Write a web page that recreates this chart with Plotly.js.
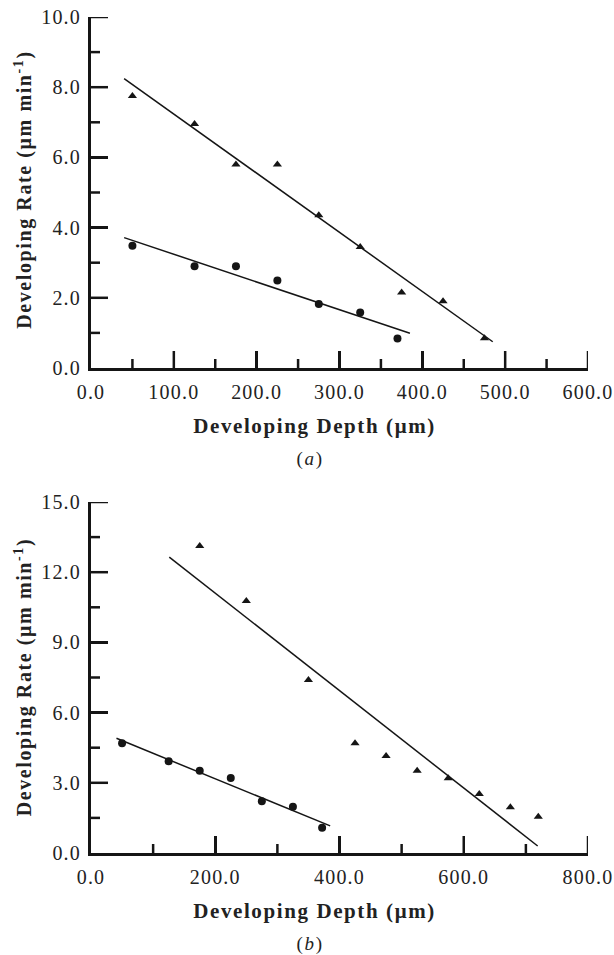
<!DOCTYPE html>
<html>
<head>
<meta charset="utf-8">
<script src="https://cdn.plot.ly/plotly-3.0.1.min.js"></script>
<style>
  html, body { margin: 0; padding: 0; background: #fff; }
  #chart { width: 614px; height: 955px; }
  .main-svg .xtick text, .main-svg .ytick text,
  .main-svg .x2tick text, .main-svg .y2tick text { letter-spacing: 1.2px; }
  .main-svg .annotation-text { letter-spacing: 1.6px; }
</style>
</head>
<body>
<div id="chart"></div>
<script>
// ---------- Data ----------
// Panel (a)
const aTriX = [50, 125, 175, 225, 275, 325, 375, 425, 475];
const aTriY = [7.75, 6.95, 5.8, 5.8, 4.35, 3.45, 2.15, 1.9, 0.85];
const aCirX = [50, 125, 175, 225, 275, 325, 370];
const aCirY = [3.48, 2.9, 2.9, 2.49, 1.82, 1.58, 0.84];
const aTriFitRange = [40, 485];
const aCirFitRange = [40, 385];

// Panel (b)
const bTriX = [175, 250, 350, 425, 475, 525, 575, 625, 675, 720];
const bTriY = [13.12, 10.77, 7.39, 4.69, 4.15, 3.52, 3.19, 2.52, 1.95, 1.55];
const bCirX = [50, 125, 175, 225, 275, 325, 372];
const bCirY = [4.69, 3.92, 3.52, 3.2, 2.21, 1.98, 1.08];
const bTriFitRange = [126, 719];
const bCirFitRange = [41, 385];

// Axis ranges and tick steps [major, minor]
const aXRange = [0, 600], aXStep = [100, 50];
const aYRange = [0, 10],  aYStep = [2, 1];
const bXRange = [0, 800], bXStep = [200, 100];
const bYRange = [0, 15],  bYStep = [3, 1.5];

// Text
const xTitle = "Developing Depth (\u03bcm)";
const yTitle = "Developing Rate (\u03bcm min<sup>-1</sup>)";
const panelLabels = ["(<i>a</i>)", "(<i>b</i>)"];

// ---------- Helpers ----------
function fitLine(xs, ys, range) {
  const n = xs.length;
  const mx = xs.reduce((s, v) => s + v, 0) / n;
  const my = ys.reduce((s, v) => s + v, 0) / n;
  let sxy = 0, sxx = 0;
  for (let i = 0; i < n; i++) { sxy += (xs[i] - mx) * (ys[i] - my); sxx += (xs[i] - mx) ** 2; }
  const m = sxy / sxx, b = my - m * mx;
  return { x: range.slice(), y: range.map(v => m * v + b) };
}

const ink = '#151515';
const serif = 'Liberation Serif, Times New Roman, serif';

function markers(xs, ys, sym, size, xa, ya) {
  return { x: xs, y: ys, xaxis: xa, yaxis: ya, type: 'scatter', mode: 'markers',
    marker: { symbol: sym, size: size, color: ink, line: { width: 0 } },
    showlegend: false, hoverinfo: 'skip' };
}
function line(f, xa, ya) {
  return { x: f.x, y: f.y, xaxis: xa, yaxis: ya, type: 'scatter', mode: 'lines',
    line: { color: ink, width: 1.5 }, showlegend: false, hoverinfo: 'skip' };
}

const data = [
  line(fitLine(aTriX, aTriY, aTriFitRange), 'x', 'y'),
  line(fitLine(aCirX, aCirY, aCirFitRange), 'x', 'y'),
  markers(aTriX, aTriY, 'triangle-up', 8, 'x', 'y'),
  markers(aCirX, aCirY, 'circle', 8, 'x', 'y'),
  line(fitLine(bTriX, bTriY, bTriFitRange), 'x2', 'y2'),
  line(fitLine(bCirX, bCirY, bCirFitRange), 'x2', 'y2'),
  markers(bTriX, bTriY, 'triangle-up', 8, 'x2', 'y2'),
  markers(bCirX, bCirY, 'circle', 8, 'x2', 'y2')
];

const tickFont = { family: serif, size: 20, color: '#222' };
function axis(extra) {
  return Object.assign({
    showgrid: false, zeroline: false, showline: true, linewidth: 3, linecolor: ink,
    ticks: 'inside', ticklen: 17, tickwidth: 2.5, tickcolor: ink, layer: 'above traces',
    tickfont: tickFont, tickformat: '.1f', tick0: 0, fixedrange: true
  }, extra);
}

// tick marks drawn as shapes anchored on the axes' own scales (pixel lengths)
function tickShapes(axName, otherAx, range, step, isX) {
  const out = [];
  const n = Math.round((range[1] - range[0]) / step[1]);
  for (let i = 1; i <= n; i++) {
    const v = range[0] + i * step[1];
    const major = Math.abs(v / step[0] - Math.round(v / step[0])) < 1e-9;
    const len = major ? 17 : 9;
    const s = { type: 'line', layer: 'above', line: { color: ink, width: 2.5 } };
    if (isX) {
      Object.assign(s, { xref: axName, yref: otherAx, x0: v, x1: v,
        ysizemode: 'pixel', yanchor: 0, y0: 0, y1: len });
    } else {
      Object.assign(s, { yref: axName, xref: otherAx, y0: v, y1: v,
        xsizemode: 'pixel', xanchor: 0, x0: 0, x1: len });
    }
    out.push(s);
  }
  return out;
}

const L = 91, R = 588, T = 17, B = 853, W = 614, H = 955;
const px = v => (v - L) / (R - L);
const py = v => (B - v) / (B - T);

const titleFont = { family: serif, size: 21, color: '#222', weight: 'bold' };
const yTitleFont = { family: serif, size: 20, color: '#222', weight: 'bold' };
const labFont = { family: serif, size: 19, color: '#222' };

function ann(text, x, y, font, angle) {
  return { text: text, xref: 'paper', yref: 'paper', x: px(x), y: py(y),
    xanchor: 'center', yanchor: 'middle', showarrow: false, font: font, textangle: angle || 0 };
}

const layout = {
  width: W, height: H,
  margin: { l: L, r: W - R, t: T, b: H - B },
  showlegend: false,
  xaxis: axis({ domain: [0, 1], anchor: 'y', range: aXRange, dtick: aXStep[0], ticklabelstandoff: 4 }),
  yaxis: axis({ domain: [py(368), 1], anchor: 'x', range: aYRange, dtick: aYStep[0], ticklabelstandoff: 3 }),
  xaxis2: axis({ domain: [0, 1], anchor: 'y2', range: bXRange, dtick: bXStep[0], ticklabelstandoff: 4 }),
  yaxis2: axis({ domain: [0, py(502)], anchor: 'x2', range: bYRange, dtick: bYStep[0], ticklabelstandoff: 3 }),
  shapes: [].concat(
    tickShapes('x', 'y', aXRange, aXStep, true),
    tickShapes('y', 'x', aYRange, aYStep, false),
    tickShapes('x2', 'y2', bXRange, bXStep, true),
    tickShapes('y2', 'x2', bYRange, bYStep, false)
  ),
  annotations: [
    ann(yTitle, 23, 190, yTitleFont, -90),
    ann(xTitle, 314, 426, titleFont),
    ann(panelLabels[0], 310, 459, labFont),
    ann(yTitle, 23, 677.5, yTitleFont, -90),
    ann(xTitle, 314, 911, titleFont),
    ann(panelLabels[1], 310, 944, labFont)
  ]
};

Plotly.newPlot('chart', data, layout, { staticPlot: true });
</script>
</body>
</html>
